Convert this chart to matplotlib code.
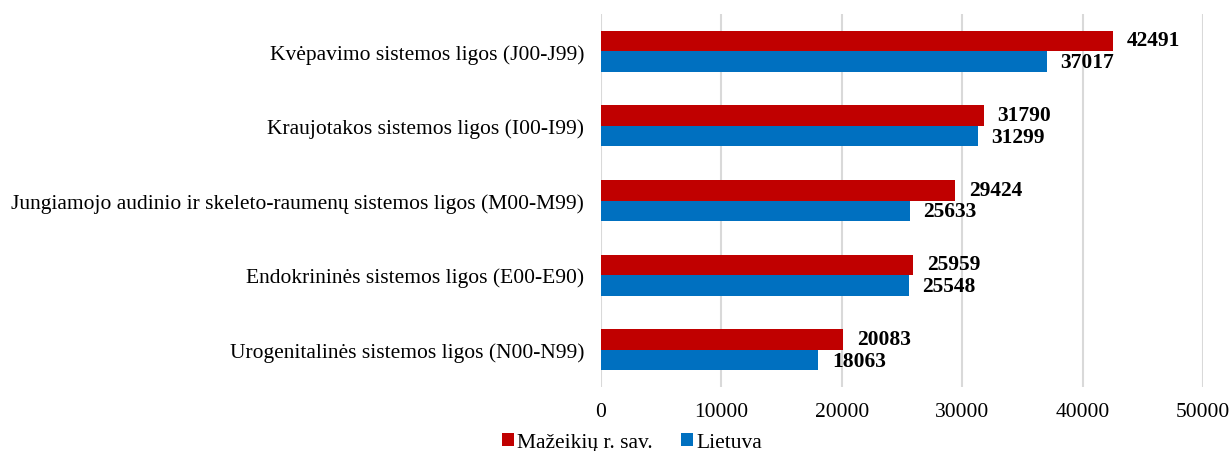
import matplotlib
matplotlib.use('Agg')
import matplotlib.pyplot as plt
import numpy as np

plt.rcParams['font.family'] = ['Liberation Serif', 'DejaVu Serif']

categories = [
    "Kvėpavimo sistemos ligos (J00-J99)",
    "Kraujotakos sistemos ligos (I00-I99)",
    "Jungiamojo audinio ir skeleto-raumenų sistemos ligos (M00-M99)",
    "Endokrininės sistemos ligos (E00-E90)",
    "Urogenitalinės sistemos ligos (N00-N99)",
]
mazeikiai = [42491, 31790, 29424, 25959, 20083]
lietuva = [37017, 31299, 25633, 25548, 18063]
series_names = ["Mažeikių r. sav.", "Lietuva"]

red = '#C00000'
blue = '#0070C0'

fig = plt.figure(figsize=(12.32, 4.52), dpi=100)
ax = fig.add_axes([0.4878, 0.1416, 0.4886, 0.825])

y = np.arange(len(categories))
h = 0.275
b1 = ax.barh(y - h / 2, mazeikiai, height=h, color=red, label=series_names[0], zorder=3)
b2 = ax.barh(y + h / 2, lietuva, height=h, color=blue, label=series_names[1], zorder=3)

# value labels after bar ends
for rect, v in zip(b1, mazeikiai):
    ax.annotate(str(v), (rect.get_width(), rect.get_y() + rect.get_height() / 2),
                xytext=(10, 0.5), textcoords='offset points', ha='left', va='center',
                fontsize=15.5, fontweight='bold')
for rect, v in zip(b2, lietuva):
    ax.annotate(str(v), (rect.get_width(), rect.get_y() + rect.get_height() / 2),
                xytext=(10, -0.5), textcoords='offset points', ha='left', va='center',
                fontsize=15.5, fontweight='bold')

ax.set_xlim(0, 50000)
ax.set_xticks(np.arange(0, 50001, 10000))
ax.set_ylim(len(categories) - 0.5, -0.5)
ax.set_yticks(y)
ax.set_yticklabels(categories)
ax.tick_params(axis='both', length=0, labelsize=15.5)
ax.tick_params(axis='y', pad=12)
ax.tick_params(axis='x', pad=11)
ax.grid(axis='x', color='#D9D9D9', linewidth=1.5, zorder=0)
for s in ax.spines.values():
    s.set_visible(False)

fig.legend(handles=[b1, b2], loc='lower center', bbox_to_anchor=(0.513, -0.045),
           ncol=2, frameon=False, fontsize=15.5, handlelength=0.55, handleheight=0.55,
           handletextpad=0.15, columnspacing=1.3)

fig.savefig('out.png', dpi=100, facecolor='white')
